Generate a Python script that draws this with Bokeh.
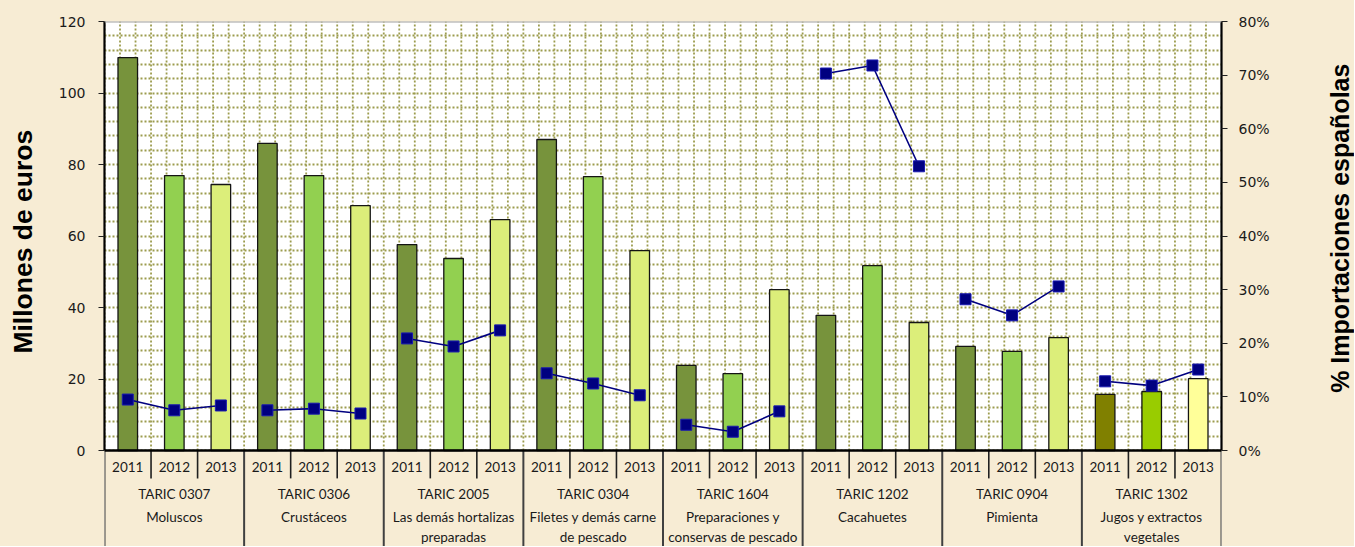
import math
from bokeh.plotting import figure
from bokeh.layouts import row
from bokeh.models import (FactorRange, Range1d, LinearAxis, FixedTicker,
                          NumeralTickFormatter, Span, BoxAnnotation)
from bokeh.core.properties import value
from bokeh.embed import file_html
from bokeh.resources import INLINE

# ---------------- data ----------------
tarics = ["TARIC 0307", "TARIC 0306", "TARIC 2005", "TARIC 0304",
          "TARIC 1604", "TARIC 1202", "TARIC 0904", "TARIC 1302"]
names = ["Moluscos", "Crustáceos", "Las demás hortalizas\npreparadas",
         "Filetes y demás carne\nde pescado", "Preparaciones y\nconservas de pescado",
         "Cacahuetes", "Pimienta", "Jugos y extractos\nvegetales"]
years = ["2011", "2012", "2013"]

# Millones de euros
eur_2011 = [109.9, 85.9, 57.6, 87.0, 23.8, 37.8, 29.1, 15.7]
eur_2012 = [76.9, 76.9, 53.7, 76.6, 21.5, 51.7, 27.7, 16.5]
eur_2013 = [74.4, 68.5, 64.6, 55.9, 45.0, 35.8, 31.6, 20.1]

# % Importaciones españolas
pct_2011 = [0.095, 0.075, 0.209, 0.144, 0.048, 0.703, 0.282, 0.129]
pct_2012 = [0.075, 0.078, 0.194, 0.125, 0.035, 0.718, 0.252, 0.121]
pct_2013 = [0.084, 0.069, 0.224, 0.103, 0.073, 0.530, 0.306, 0.151]

left_ticks = [0, 20, 40, 60, 80, 100, 120]
right_ticks = [0, 0.1, 0.2, 0.3, 0.4, 0.5, 0.6, 0.7, 0.8]

left_title = "Millones de euros"
right_title = "% Importaciones españolas"

# ---------------- styles / layout ----------------
BG = "#F7ECD4"
col_2011 = ["#77933C"] * 7 + ["#808000"]
col_2012 = ["#92D050"] * 7 + ["#99CC00"]
col_2013 = ["#DCEE7A"] * 7 + ["#FFFF99"]
GRID = "#9C9C4E"
TXT = "#1a1a1a"
CAT_FONT = value("Lato")
CAT_SIZE = "13.5px"

H = 546
LW, RW = 44, 30          # side strips holding the axis titles
PW = 1354 - LW - RW      # main figure width
BL = 104 - LW            # frame starts at x=104
BR = 1324 - 1221         # frame ends at x=1221
TOP = 21
PLOT_PX = 429            # height of plot area (0..120)

Y_MAX = 120.0
PCT_MAX = 0.8
Y_MIN = -(H - TOP - PLOT_PX) * Y_MAX / PLOT_PX   # table area below zero

factors = [(t, y) for t in tarics for y in years]

p = figure(x_range=FactorRange(*factors, factor_padding=0, group_padding=0,
                               subgroup_padding=0, range_padding=0),
           y_range=Range1d(Y_MIN, Y_MAX),
           width=PW, height=H,
           min_border_left=BL, min_border_right=BR, min_border_top=TOP, min_border_bottom=0,
           output_backend="svg", toolbar_location=None,
           x_axis_location=None, y_axis_location="left",
           background_fill_color="white", border_fill_color=BG,
           outline_line_color=None)
p.extra_y_ranges = {"pct": Range1d(Y_MIN * PCT_MAX / Y_MAX, PCT_MAX)}

# table background (beige below zero)
p.add_layout(BoxAnnotation(top=0, fill_color=BG, fill_alpha=1, line_alpha=0, level="underlay"))

# grids
p.xgrid.visible = False
p.ygrid.ticker = FixedTicker(ticks=list(range(0, 121, 4)))
p.ygrid.bounds = (0, Y_MAX)
p.ygrid.grid_line_color = GRID
p.ygrid.grid_line_width = 1.8
p.ygrid.grid_line_dash = "2 2"

vx = []
for t in tarics:
    for y in years:
        for off in (-0.5, -1 / 6, 1 / 6):
            vx.append((t, y, off))
p.segment(x0=vx, x1=vx, y0=[0] * len(vx), y1=[Y_MAX] * len(vx),
          line_color=GRID, line_width=1.8, line_dash="2 2")

# top border of plot area
p.add_layout(Span(location=Y_MAX, dimension="width", line_color="#A0A0A0", line_width=2))

# bars
bar_x, bar_top, bar_col = [], [], []
for i, t in enumerate(tarics):
    for y, vals, cols in zip(years, (eur_2011, eur_2012, eur_2013), (col_2011, col_2012, col_2013)):
        bar_x.append((t, y))
        bar_top.append(vals[i])
        bar_col.append(cols[i])
p.vbar(x=bar_x, top=bar_top, bottom=0, width=0.42, fill_color=bar_col,
       line_color="#141414", line_width=1.3)

# baseline
p.add_layout(Span(location=0, dimension="width", line_color="black", line_width=2.4))

# % line, per group
xs, ys, px, py = [], [], [], []
for i, t in enumerate(tarics):
    gx = [(t, y) for y in years]
    gy = [pct_2011[i], pct_2012[i], pct_2013[i]]
    xs.append(gx)
    ys.append(gy)
    px += gx
    py += gy
p.multi_line(xs=xs, ys=ys, line_color="#000080", line_width=1.6, y_range_name="pct")
p.scatter(x=px, y=py, marker="square", size=11, fill_color="#000080",
          line_color="#1A1AB0", line_width=1, y_range_name="pct")

# ---------------- category table below the plot ----------------
year_sep = [(t, y, -0.5) for t in tarics for y in years[1:]]
p.segment(x0=year_sep, x1=year_sep, y0=[0] * len(year_sep), y1=[-7.8] * len(year_sep),
          line_color="#202020", line_width=1.6)
grp_sep = [(t, years[0], -0.5) for t in tarics] + [(tarics[-1], years[-1], 0.5)]
p.segment(x0=grp_sep, x1=grp_sep, y0=[0] * len(grp_sep), y1=[Y_MIN] * len(grp_sep),
          line_color="#404040", line_width=2)

p.text(x=factors, y=[-4.5] * len(factors), text=[f[1] for f in factors],
       text_align="center", text_baseline="middle", text_font=CAT_FONT,
       text_font_size=CAT_SIZE, text_color=TXT)
p.text(x=tarics, y=[-12.3] * len(tarics), text=tarics,
       text_align="center", text_baseline="middle", text_font=CAT_FONT,
       text_font_size=CAT_SIZE, text_color=TXT)
p.text(x=tarics, y=[-16.5] * len(tarics), text=names,
       text_align="center", text_baseline="top", text_font=CAT_FONT,
       text_font_size=CAT_SIZE, text_color=TXT, text_line_height=1.24)

# ---------------- axes ----------------
ax = p.yaxis[0]
ax.ticker = FixedTicker(ticks=left_ticks)
ax.bounds = (0, Y_MAX)
ax.major_label_text_font = "DejaVu Sans"
ax.major_label_text_font_size = "14px"
ax.major_label_text_color = TXT
ax.major_label_standoff = 13
ax.axis_line_color = "black"
ax.axis_line_width = 2.2
ax.major_tick_in = 0
ax.major_tick_out = 6
ax.major_tick_line_color = "#202020"
ax.minor_tick_line_color = None

rax = LinearAxis(y_range_name="pct", ticker=FixedTicker(ticks=right_ticks),
                 formatter=NumeralTickFormatter(format="0%"), bounds=(0, PCT_MAX))
rax.major_label_text_font = "DejaVu Sans"
rax.major_label_text_font_size = "14px"
rax.major_label_text_color = TXT
rax.major_label_standoff = 11
rax.axis_line_color = "black"
rax.axis_line_width = 2.2
rax.major_tick_in = 0
rax.major_tick_out = 6
rax.major_tick_line_color = "#202020"
rax.minor_tick_line_color = None
p.add_layout(rax, "right")

# ---------------- axis titles (side strips) ----------------
def title_strip(width, text, y_from_top, size):
    f = figure(width=width, height=H, x_range=Range1d(0, 1), y_range=Range1d(0, H),
               min_border=0, output_backend="svg", toolbar_location=None,
               x_axis_location=None, y_axis_location=None,
               background_fill_color=BG, border_fill_color=BG, outline_line_color=None)
    f.xgrid.visible = False
    f.ygrid.visible = False
    f.text(x=[0.5], y=[H - y_from_top], text=[text], angle=math.pi / 2,
           text_align="center", text_baseline="middle",
           text_font=value("Liberation Sans"), text_font_style="bold",
           text_font_size=size, text_color="black")
    return f

lt = title_strip(LW, left_title, 229, "26.5px")
rt = title_strip(RW, right_title, 215, "25px")

layout = row(lt, p, rt, spacing=0, styles={"background-color": BG})
open("out.html", "w").write(file_html(layout, INLINE))
